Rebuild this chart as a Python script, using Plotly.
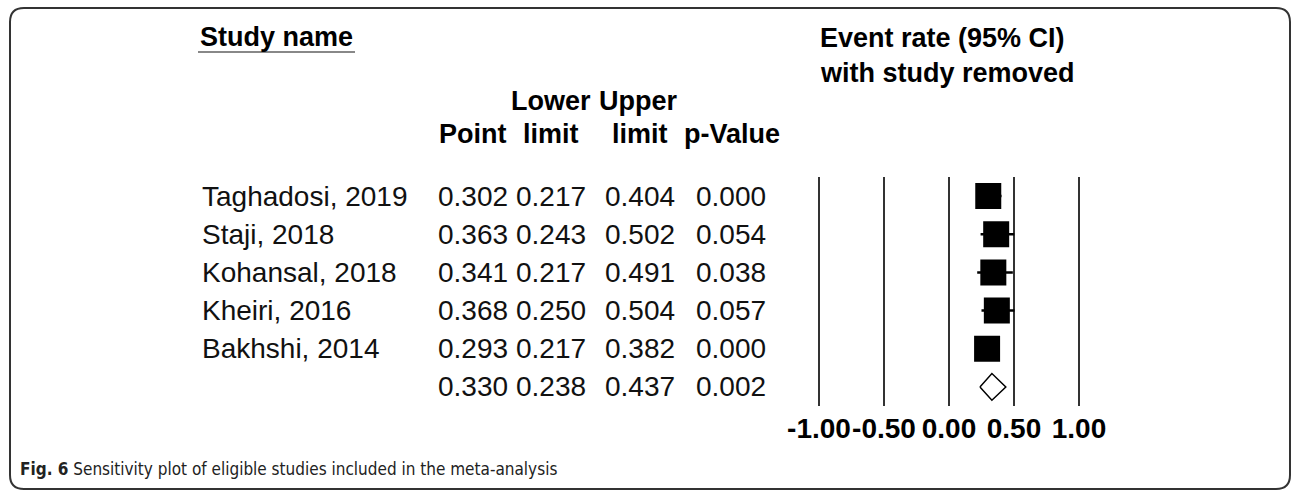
import plotly.graph_objects as go

W, H = 1292, 490

# ---- data ----
studies = ["Taghadosi, 2019", "Staji, 2018", "Kohansal, 2018", "Kheiri, 2016", "Bakhshi, 2014", ""]
point = [0.302, 0.363, 0.341, 0.368, 0.293, 0.330]
lower = [0.217, 0.243, 0.217, 0.250, 0.217, 0.238]
upper = [0.404, 0.502, 0.491, 0.504, 0.382, 0.437]
pval = [0.000, 0.054, 0.038, 0.057, 0.000, 0.002]
tick_vals = [-1.0, -0.5, 0.0, 0.5, 1.0]
tick_text = ["-1.00", "-0.50", "0.00", "0.50", "1.00"]

n_study = 5
rows = list(range(len(studies)))

def px(x):
    return x / W

def py(y):
    return 1 - y / H

FONT = "Liberation Sans, Arial, sans-serif"
TXT = 28
HDR = 27

fig = go.Figure()

# study squares with CI whiskers
fig.add_trace(go.Scatter(
    x=point[:n_study], y=rows[:n_study], mode="markers",
    marker=dict(symbol="square", size=26, color="black", line=dict(width=0)),
    error_x=dict(type="data", symmetric=False,
                 array=[u - p for u, p in zip(upper[:n_study], point[:n_study])],
                 arrayminus=[p - l for p, l in zip(point[:n_study], lower[:n_study])],
                 color="black", thickness=2.5, width=0),
    showlegend=False, hoverinfo="skip"))

# summary diamond
r = rows[n_study]
h = 0.35
fig.add_trace(go.Scatter(
    x=[lower[n_study], point[n_study], upper[n_study], point[n_study], lower[n_study]],
    y=[r, r - h, r, r + h, r], mode="lines",
    line=dict(color="black", width=1.5), showlegend=False, hoverinfo="skip"))

ann = []
# table body
col_x = [473, 551, 640, 731]
for i in rows:
    if studies[i]:
        ann.append(dict(x=px(200), y=i, xref="paper", yref="y", text=studies[i],
                        xanchor="left", yanchor="middle", showarrow=False,
                        font=dict(family=FONT, size=TXT, color="#111")))
    for cx, v in zip(col_x, [point[i], lower[i], upper[i], pval[i]]):
        ann.append(dict(x=px(cx), y=i, xref="paper", yref="y", text=f"{v:.3f}",
                        xanchor="center", yanchor="middle", showarrow=False,
                        font=dict(family=FONT, size=TXT, color="#111")))

# headers
def hdr(text, x, y, anchor="center"):
    ann.append(dict(x=px(x), y=py(y), xref="paper", yref="paper", text=text,
                    xanchor=anchor, yanchor="middle", showarrow=False,
                    font=dict(family=FONT, size=HDR, color="black", weight="bold")))

hdr("Study name", 198, 37, "left")
hdr("Event rate (95% CI)", 818, 38, "left")
hdr("with study removed", 818, 73, "left")
hdr("Lower", 551, 101)
hdr("Upper", 638, 101)
hdr("Point", 473, 134)
hdr("limit", 551, 134)
hdr("limit", 640, 134)
hdr("p-Value", 732, 134)

# caption
ann.append(dict(x=px(18), y=py(469), xref="paper", yref="paper",
                text="<b>Fig. 6</b> Sensitivity plot of eligible studies included in the meta-analysis",
                xanchor="left", yanchor="middle", showarrow=False,
                font=dict(family="Liberation Sans Narrow, DejaVu Sans Condensed, sans-serif", size=17, color="#222")))

# shapes: underline + frame
shapes = [
    dict(type="line", xref="paper", yref="paper", x0=px(198), x1=px(355), y0=py(52), y1=py(52),
         line=dict(color="#888", width=2)),
]
L, R, T, B, rad = 10, 1290, 8, 489, 14
path = (f"M {px(L)},{py(B - rad)} L {px(L)},{py(T + rad)} Q {px(L)},{py(T)} {px(L + rad)},{py(T)} "
        f"L {px(R - rad)},{py(T)} Q {px(R)},{py(T)} {px(R)},{py(T + rad)} L {px(R)},{py(B - rad)} "
        f"Q {px(R)},{py(B)} {px(R - rad)},{py(B)} L {px(L + rad)},{py(B)} Q {px(L)},{py(B)} {px(L)},{py(B - rad)}")
shapes.append(dict(type="path", xref="paper", yref="paper", path=path,
                   line=dict(color="#333", width=2)))

# axis geometry: 130 px per unit, -1 at x=819
xr = [-1.05, 1.05]
x0p = 819 + 130 * (xr[0] + 1)
x1p = 819 + 130 * (xr[1] + 1)

fig.update_layout(
    template="none",
    width=W, height=H, margin=dict(l=0, r=0, t=0, b=0, pad=0, autoexpand=False),
    paper_bgcolor="white", plot_bgcolor="white",
    xaxis=dict(domain=[px(x0p), px(x1p)], range=xr, tickvals=tick_vals, ticktext=tick_text,
               showgrid=True, gridcolor="#333", gridwidth=2, zeroline=False, showline=False,
               ticks="", tickangle=0, automargin=False,
               tickfont=dict(family=FONT, size=28, color="black", weight="bold"),
               ticklabelstandoff=3, fixedrange=True),
    yaxis=dict(domain=[py(406), py(177)], range=[5.5, -0.5], showgrid=False, zeroline=False,
               showticklabels=False, ticks="", showline=False, fixedrange=True, automargin=False),
    annotations=ann, shapes=shapes,
)

fig.write_html("out.html", config={"displayModeBar": False},
               post_script="document.body.style.margin='0';document.body.style.overflow='hidden';")
